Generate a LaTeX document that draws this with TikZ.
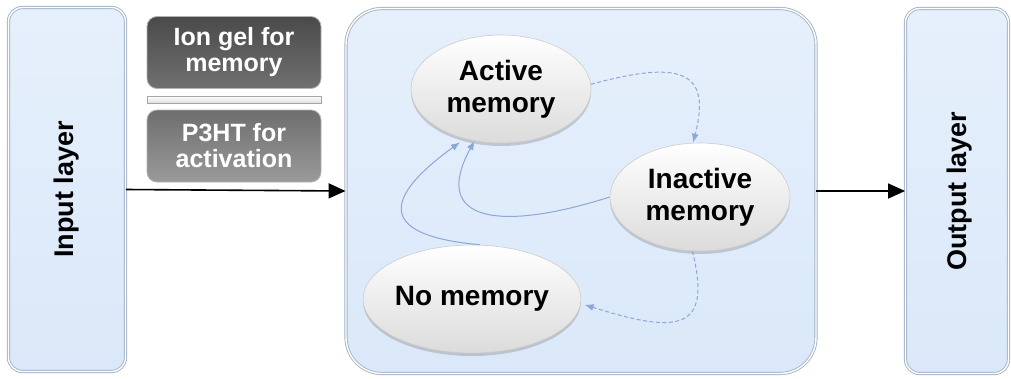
\documentclass[tikz,border=0pt]{standalone}
\usepackage{fontspec}
\setmainfont{Liberation Sans}
\usetikzlibrary{shapes.geometric,arrows.meta,shadows}
\definecolor{layertop}{HTML}{E6F0FC}
\definecolor{layerbot}{HTML}{DAE8F9}
\definecolor{layeredge}{HTML}{A3B3C6}
\definecolor{memblue}{HTML}{8EA6D8}
\definecolor{darkgraytop}{HTML}{4A4A4A}
\definecolor{darkgraybot}{HTML}{707070}
\definecolor{midgraytop}{HTML}{6E6E6E}
\definecolor{midgraybot}{HTML}{9A9A9A}
\begin{document}
\begin{tikzpicture}[x=1pt,y=-1pt,
  layerbox/.style={draw=layeredge, line width=0.9pt, double=white, double distance=1.4pt, top color=layertop, bottom color=layerbot, inner sep=0pt},
  layertext/.style={rotate=90, font=\bfseries\fontsize{27}{30}\selectfont, text=black},
  graybox/.style={draw=gray!60, line width=0.8pt, rounded corners=10pt, minimum width=174pt, minimum height=72pt, inner sep=0pt, align=center, text=white, font=\bfseries\fontsize{25}{26}\selectfont},
  memnode/.style={ellipse, draw=gray!40, line width=0.6pt, top color=white, bottom color=gray!28, minimum width=180pt, minimum height=108pt, inner sep=0pt, align=center, font=\bfseries\fontsize{28}{32}\selectfont, drop shadow={opacity=0.35, shadow xshift=0pt, shadow yshift=-3pt}},
  flowarrow/.style={-{Triangle[length=17pt,width=15pt]}, line width=1.6pt, black},
  memarrow/.style={-{Latex[length=9pt,width=7pt]}, draw=memblue, line width=1pt},
  memdash/.style={memarrow, dash pattern=on 4pt off 2.5pt}
]
\useasboundingbox (0,0) rectangle (1011,378);

% layer boxes
\node[layerbox, rounded corners=14pt, minimum width=117pt, minimum height=364pt] (in) at (67,189.5) {};
\node[layertext] (inlbl) at (in.center) {Input layer};
\node[layerbox, rounded corners=14pt, minimum width=103pt, minimum height=365pt] (out) at (957,191) {};
\node[layertext] (outlbl) at ([xshift=3pt]out.center) {Output layer};

% central box
\node[layerbox, rounded corners=36pt, minimum width=470pt, minimum height=365pt] (core) at (581,191) {};

% gray material boxes
\node[graybox, top color=darkgraytop, bottom color=darkgraybot] (gel) at (234,52.5) {Ion gel for\\memory};
\node[draw=gray!70, line width=0.8pt, top color=white, bottom color=gray!25, minimum width=174pt, minimum height=7pt, inner sep=0pt] (bar) at (234,99.5) {};
\node[graybox, top color=midgraytop, bottom color=midgraybot] (p3ht) at (234,146) {P3HT for\\activation};

% flow arrows
\draw[flowarrow] (in.east) -- (core.west);
\draw[flowarrow] (core.east) -- (out.west);

% memory states
\node[memnode] (act) at (501,89) {Active\\memory};
\node[memnode] (inact) at (700,197) {Inactive\\memory};
\node[memnode] (nomem) at (472,299) {No memory};

% transitions
\draw[memdash] (act.3) .. controls (680,60) and (712,70) .. ([xshift=-7pt]inact.north);
\draw[memdash] (inact.-98) .. controls (712,330) and (680,335) .. ([xshift=4pt]nomem.-3);
\draw[memarrow] (inact.west) .. controls (500,232) and (430,222) .. (act.-117);
\draw[memarrow, shorten >=6pt] ([xshift=8pt]nomem.north) .. controls (380,236) and (380,200) .. (act.-126);
\end{tikzpicture}
\end{document}
